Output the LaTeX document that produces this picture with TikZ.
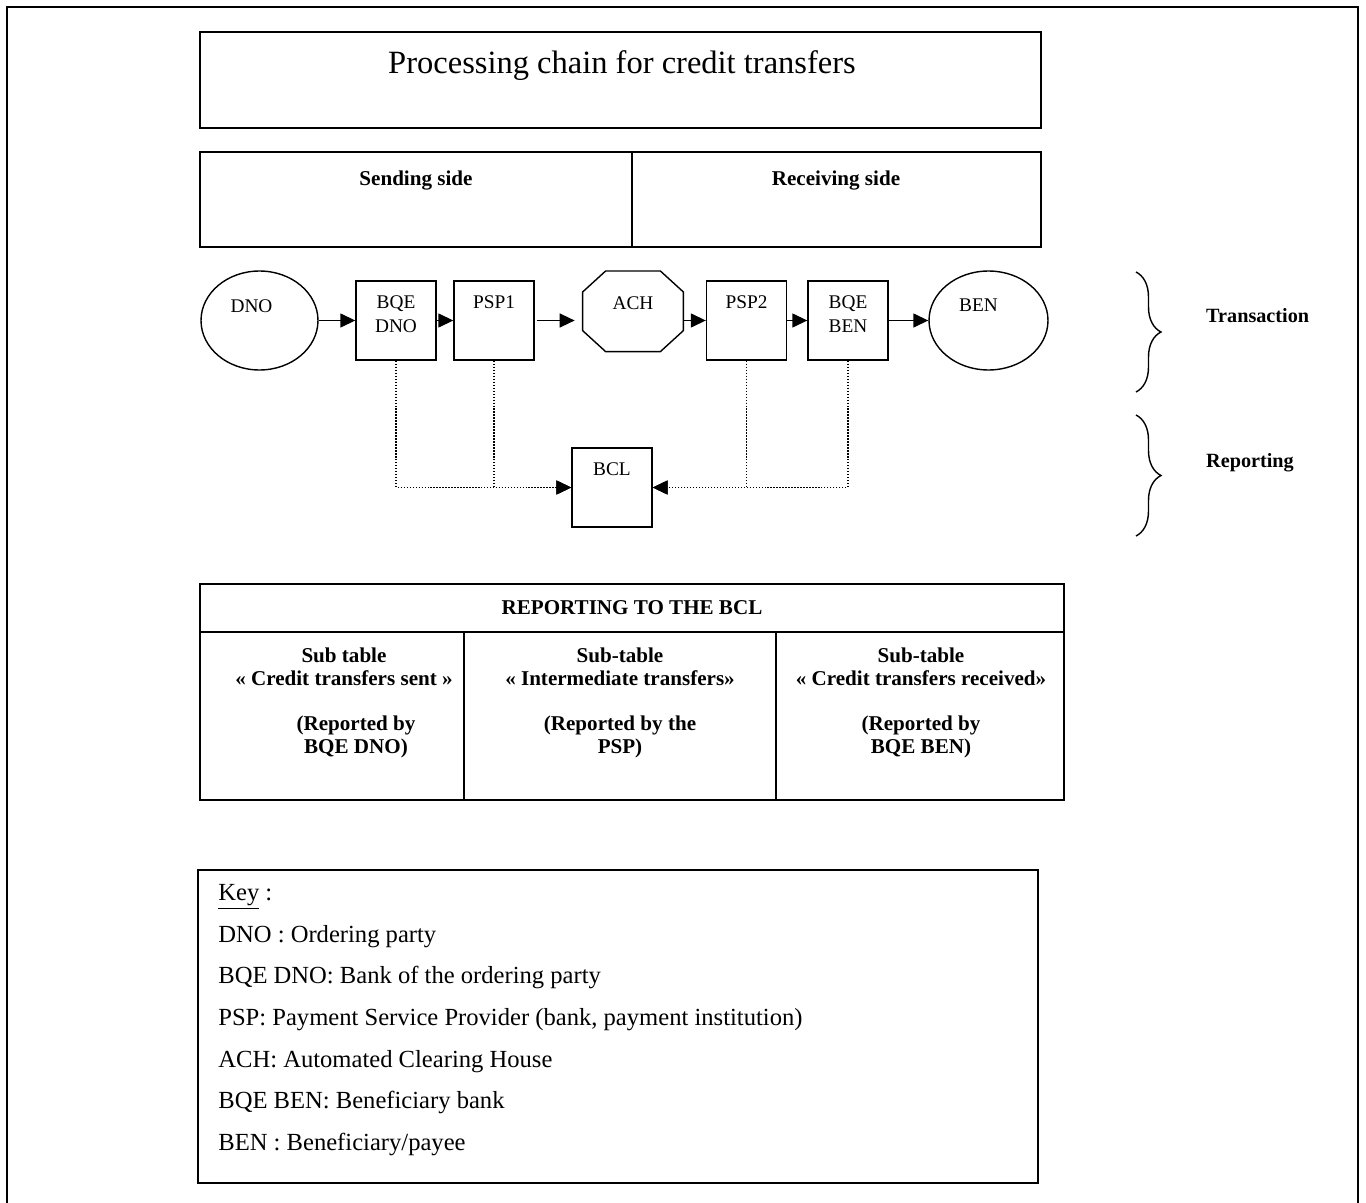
\documentclass[tikz,border=0pt]{standalone}
\usepackage{fontspec}
\setmainfont{Liberation Serif}
\usetikzlibrary{positioning,shapes,arrows.meta,decorations.pathreplacing}

\tikzset{
  box/.style={draw, line width=0.8pt, minimum width=1.6cm, minimum height=1.58cm},
  party/.style={draw, ellipse, line width=0.8pt, minimum height=1.98cm},
  lbl/.style={font=\fontsize{11}{13.4}\selectfont, align=center, anchor=north, inner sep=0pt},
  flow/.style={line width=0.8pt, -{Triangle[length=0.3cm,width=0.28cm]}},
  rep/.style={densely dotted, line width=0.7pt, -{Triangle[length=0.3cm,width=0.28cm]}},
  hdr/.style={font=\fontsize{12}{12.8}\selectfont\bfseries},
  cell/.style={hdr, align=center, anchor=north, inner sep=0pt},
  brc/.style={decorate, decoration={brace, amplitude=0.5cm}, line width=0.8pt},
}

\begin{document}
\begin{tikzpicture}[x=0.02cm, y=-0.02cm]
      \useasboundingbox (0,0) rectangle (1366,1203);
      \draw[line width=1.2pt] (7,1203) |- (1358,7) -- (1358,1203);

      % title and sides
      \draw[line width=0.8pt] (200,32) rectangle (1041,128)
            (200,152) rectangle (1041,247)
            (632,152) -- (632,247);
      \node[font=\fontsize{18.5}{22}\selectfont, anchor=base] (title) at (622,74) {Processing chain for credit transfers};
      \node[hdr, anchor=base] (send) at (416,185) {Sending side};
      \node[hdr, anchor=base] (recv) at (836,185) {Receiving side};

      % transaction chain
      \node[party, minimum width=2.34cm, label={[lbl, yshift=-0.58cm, xshift=-0.16cm]north:DNO}] (dno) at (259.5,320.5) {};
      \node[box, label={[lbl, yshift=-0.31cm]north:BQE\\DNO}] (bqed) at (396,320.5) {};
      \node[box, label={[lbl, yshift=-0.31cm]north:PSP1}] (psp1) at (494,320.5) {};
      \node[minimum width=2cm, minimum height=1.6cm, label={[lbl, yshift=-0.5cm]north:ACH}] (ach) at (633,311.3) {};
      \draw[line width=0.8pt] ([xshift=0.46cm]ach.north west) -- ([xshift=-0.46cm]ach.north east)
            -- ([yshift=-0.42cm]ach.north east) -- ([yshift=0.42cm]ach.south east)
            -- ([xshift=-0.46cm]ach.south east) -- ([xshift=0.46cm]ach.south west)
            -- ([yshift=0.42cm]ach.south west) -- ([yshift=-0.42cm]ach.north west) -- cycle;
      \node[box, label={[lbl, yshift=-0.31cm]north:PSP2}] (psp2) at (746.5,320.5) {};
      \node[box, label={[lbl, yshift=-0.31cm]north:BQE\\BEN}] (bqeb) at (848,320.5) {};
      \node[party, minimum width=2.38cm, label={[lbl, yshift=-0.56cm, xshift=-0.2cm]north:BEN}] (ben) at (988.5,320.5) {};

      \draw[flow] (dno) -- (bqed);
      \draw[flow] (bqed) -- (psp1);
      \draw[flow] ([xshift=0.04cm]psp1.east) -- ([xshift=-0.16cm]ach.west |- psp1.east);
      \draw[flow] (ach.east |- psp2.west) -- (psp2.west);
      \draw[flow] (psp2) -- (bqeb);
      \draw[flow] (bqeb) -- (ben);

      % reporting
      \node[box, label={[lbl, yshift=-0.3cm]north:BCL}] (bcl) at (612,487.5) {};
      \draw[rep] (bqed.south) |- (bcl.west);
      \draw[rep] (psp1.south) |- (bcl.west);
      \draw[rep] (bqeb.south) |- (bcl.east);
      \draw[rep] (psp2.south) |- (bcl.east);

      \draw[brc] (1136,272) -- (1136,392);
      \draw[brc] (1136,415) -- (1136,536);
      \node[hdr, font=\fontsize{11.5}{13}\selectfont\bfseries, anchor=base west] (trans) at (1200,322) {Transaction};
      \node[hdr, font=\fontsize{11.5}{13}\selectfont\bfseries, anchor=base west] (report) at (1200,467) {Reporting};

      % table
      \draw[line width=0.8pt] (200,584) rectangle (1064,800)
            (200,632) -- (1064,632)
            (464,632) -- (464,800)
            (776,632) -- (776,800);
      \node[hdr, anchor=base] (bcltab) at (632,614) {REPORTING TO THE BCL};
      \node[cell] (sent) at (344,648) {Sub table\\« Credit transfers sent »};
      \node[cell] (sentby) at (356,716) {(Reported by\\BQE DNO)};
      \node[cell] (inter) at (620,648) {Sub-table\\« Intermediate transfers»};
      \node[cell] (interby) at (620,716) {(Reported by the\\PSP)};
      \node[cell] (recd) at (921,648) {Sub-table\\« Credit transfers received»};
      \node[cell] (recdby) at (921,716) {(Reported by\\BQE BEN)};

      % key
      \draw[line width=0.8pt] (198,870) rectangle (1038,1183);
      \node[font=\fontsize{14}{23.7}\selectfont, align=left, anchor=north west, inner sep=0pt] (key) at (218,884)
            {\underline{Key} :\\
             DNO : Ordering party\\
             BQE DNO: Bank of the ordering party\\
             PSP: Payment Service Provider (bank, payment institution)\\
             ACH: Automated Clearing House\\
             BQE BEN: Beneficiary bank\\
             BEN : Beneficiary/payee};
\end{tikzpicture}
\end{document}
